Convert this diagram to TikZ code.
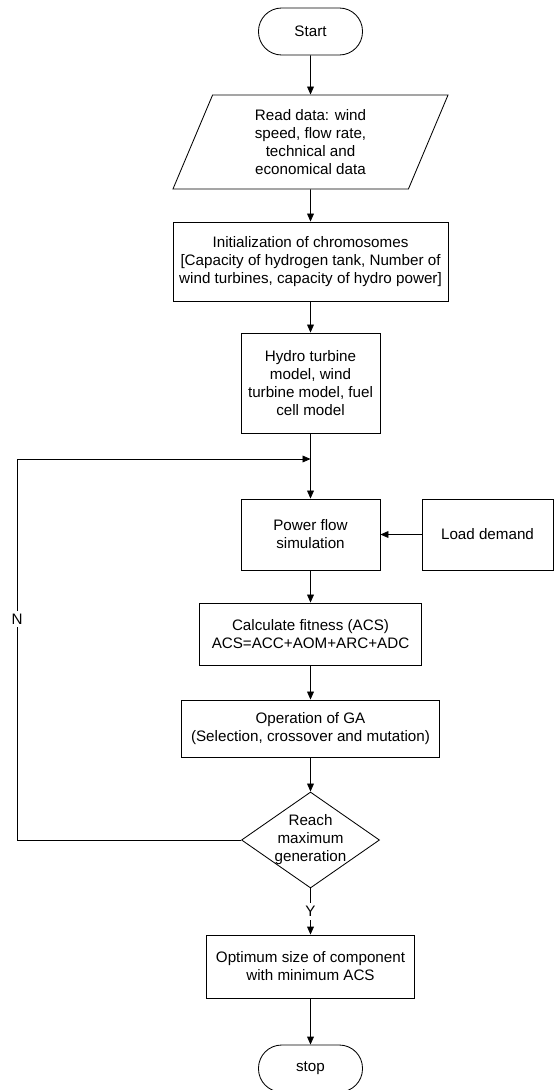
\documentclass[tikz,border=0pt]{standalone}
\usepackage{fontspec}
\setmainfont{Liberation Sans}
\usetikzlibrary{arrows.meta,shapes.geometric}
\begin{document}
\begin{tikzpicture}[x=0.025cm, y=-0.025cm, line width=0.6pt,
    >={Triangle[length=2mm,width=1.7mm]},
    every node/.style={font=\fontsize{10.8}{12.8}\selectfont},
    box/.style={draw, align=center, inner sep=2pt},
    terminal/.style={draw, rounded corners=0.58cm, minimum width=2.6cm, minimum height=1.175cm},
    io/.style={draw, trapezium, trapezium left angle=62, trapezium right angle=118,
      trapezium stretches body, align=center, minimum width=6.875cm, minimum height=2.35cm},
    decision/.style={draw, diamond, inner sep=0pt, minimum width=3.45cm, minimum height=2.4cm},
    tag/.style={fill=white, inner sep=2pt}]
    \useasboundingbox (0, 0) rectangle (554, 1090);

    \node[terminal] (start) at (310.5, 31.5) {Start};
    \node[io] (read) at (310.5, 142) {Read data: wind\\speed, flow rate,\\technical and\\economical data};
    \node[box, minimum width=6.875cm, minimum height=1.975cm] (init) at (310.5, 261.5)
      {Initialization of chromosomes\\{}[Capacity of hydrogen tank, Number of\\wind turbines, capacity of hydro power]};
    \node[box, minimum width=3.475cm, minimum height=2.5cm] (hydro) at (310.5, 383)
      {Hydro turbine\\model, wind\\turbine model, fuel\\cell model};
    \coordinate (join) at (310.5, 459);
    \node[box, minimum width=3.475cm, minimum height=1.775cm] (power) at (310.5, 534.5) {Power flow\\simulation};
    \node[box, minimum width=3.275cm, minimum height=1.775cm] (load) at (487.5, 534.5) {Load demand};
    \node[box, minimum width=5.55cm, minimum height=1.55cm] (calc) at (310.5, 634)
      {Calculate fitness (ACS)\\ACS=ACC+AOM+ARC+ADC};
    \node[box, minimum width=6.45cm, minimum height=1.425cm] (ga) at (310.5, 728.5)
      {Operation of GA\\(Selection, crossover and mutation)};
    \node[decision] (reach) at (310.5, 840) {};
    \node[align=center] (reachtext) at (reach) {Reach\\maximum\\generation};
    \node[box, minimum width=5.2cm, minimum height=1.575cm] (opt) at (310.5, 966.5)
      {Optimum size of component\\with minimum ACS};
    \node[terminal] (stop) at (310.5, 1068.5) {stop};
    \coordinate (back) at (17, 840);

    \draw[->] (start) -- (read);
    \draw[->] (read) -- (init);
    \draw[->] (init) -- (hydro);
    \draw[->] (hydro) -- (power);
    \draw[->] (load) -- (power);
    \draw[->] (power) -- (calc);
    \draw[->] (calc) -- (ga);
    \draw[->] (ga) -- (reach);
    \draw[->] (reach) -- node[tag] {Y} (opt);
    \draw[->] (opt) -- (stop);
    \draw[->] (reach.west) -- (back) |- node[tag, pos=0.29] {N} (join);
  \end{tikzpicture}
\end{document}
